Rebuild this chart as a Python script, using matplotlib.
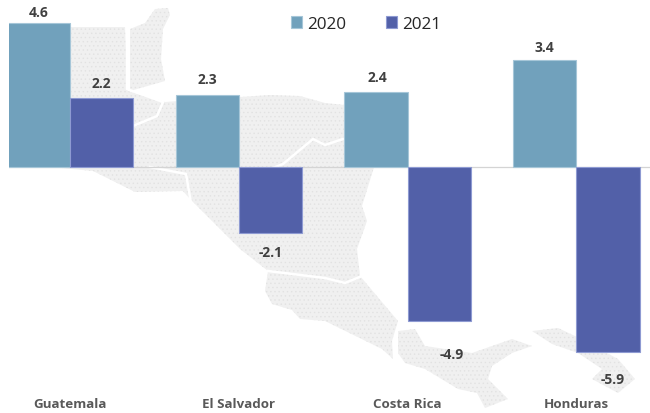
import matplotlib

matplotlib.use("Agg")

import matplotlib.pyplot as plt
import numpy as np
from matplotlib.patches import Polygon

plt.rcParams["font.family"] = ["Open Sans", "DejaVu Sans"]
plt.rcParams["hatch.linewidth"] = 0.5

countries = ["Guatemala", "El Salvador", "Costa Rica", "Honduras"]
values_2020 = [4.6, 2.3, 2.4, 3.4]
values_2021 = [2.2, -2.1, -4.9, -5.9]

COLOR_2020 = "#71a1bc"
COLOR_2021 = "#5260a8"
EDGE_2020 = "#a6c6d8"
EDGE_2021 = "#8e9ad2"
MAP_FILL = "#f0f0f0"
MAP_DOTS = "#e2e2e2"

# label nudges in pixels, the original spaces them unevenly
offsets_2020 = [(0, 11), (0, 16), (1, 15), (0, 13)]
offsets_2021 = [(0, 15), (0, -19), (12, -33), (5, -27)]

# background map outline, in image pixels (decoration only)
map_shapes = [
    # Guatemala, Honduras, Nicaragua, Costa Rica
    [(65, 28), (125, 28), (128, 92), (165, 103), (205, 100), (240, 98), (270, 96),
     (300, 97), (325, 104), (345, 106), (375, 165), (362, 207), (367, 222), (357, 250),
     (360, 277), (398, 322), (392, 342), (393, 360), (382, 350), (325, 322), (300, 320),
     (292, 311), (272, 305), (265, 292), (268, 272), (240, 250), (197, 207), (190, 200),
     (183, 192), (135, 193), (93, 172), (50, 168), (65, 100)],
    # Belize and Yucatan
    [(130, 30), (145, 24), (155, 10), (168, 9), (170, 16), (163, 30), (161, 60),
     (165, 82), (130, 92)],
    # Panama
    [(398, 332), (415, 330), (425, 347), (472, 354), (512, 340), (532, 347), (512, 354),
     (492, 367), (488, 380), (508, 400), (485, 409), (477, 394), (458, 390), (425, 370),
     (405, 364), (398, 354)],
    # Colombia corner
    [(532, 332), (558, 329), (575, 337), (618, 360), (635, 380), (618, 394), (592, 380),
     (602, 370), (578, 354), (552, 345)],
]
map_borders = [
    [(127, 28), (127, 90), (163, 103), (157, 117), (133, 127)],
    [(150, 168), (186, 175), (191, 204)],
    [(240, 182), (283, 165), (313, 140), (325, 146), (343, 140), (372, 130)],
    [(268, 272), (325, 279), (345, 284), (362, 277)],
]

fig = plt.figure(figsize=(6.5, 4.14), dpi=100)

map_ax = fig.add_axes([0, 0, 1, 1], zorder=0)
map_ax.set_xlim(0, 650)
map_ax.set_ylim(414, 0)
map_ax.axis("off")
for shape in map_shapes:
    map_ax.add_patch(Polygon(shape, closed=True, facecolor=MAP_FILL, edgecolor=MAP_DOTS,
                             hatch="....", linewidth=0))
for border in map_borders:
    xs, ys = zip(*border)
    map_ax.plot(xs, ys, color="white", linewidth=1.8)

# axes start at x=9 because the first bar is cut there in the original,
# and stop above the country names so they can be normal tick labels
ax = fig.add_axes([9 / 650, 22 / 414, 641 / 650, 392 / 414], zorder=1)
ax.patch.set_visible(False)

x = np.arange(len(countries))
bar_width = 0.375
bars_2020 = ax.bar(x - bar_width / 2, values_2020, bar_width, color=COLOR_2020,
                   edgecolor=EDGE_2020, linewidth=0.8, label="2020", zorder=3)
bars_2021 = ax.bar(x + bar_width / 2, values_2021, bar_width, color=COLOR_2021,
                   edgecolor=EDGE_2021, linewidth=0.8, label="2021", zorder=3)

ax.set_xlim(-61 / 168.8, 580 / 168.8)
ax.set_ylim(-224 / 31.4, 168 / 31.4)
ax.axhline(0, color="#d4d4d4", linewidth=0.9, zorder=2)

ax.set_xticks(x)
ax.set_xticklabels(countries, fontsize=9.6, fontweight="bold", color="#595959")
ax.tick_params(axis="x", length=0, pad=4)
ax.set_yticks([])
for spine in ax.spines.values():
    spine.set_visible(False)

for i, value in enumerate(values_2020):
    ax.annotate(f"{value}", (x[i] - bar_width / 2, value), xytext=offsets_2020[i],
                textcoords="offset pixels", ha="center", va="center",
                fontsize=10, fontweight="bold", color="#404040", zorder=4)
for i, value in enumerate(values_2021):
    ax.annotate(f"{value}", (x[i] + bar_width / 2, value), xytext=offsets_2021[i],
                textcoords="offset pixels", ha="center", va="center",
                fontsize=10, fontweight="bold", color="#404040", zorder=4)

ax.legend(handles=[bars_2020, bars_2021], ncol=2, frameon=False, fontsize=12.3,
          loc="center left", bbox_to_anchor=(291 / 650, 1 - 25 / 414),
          bbox_transform=fig.transFigure,
          handlelength=0.65, handleheight=0.65, handletextpad=0.3, columnspacing=2.35,
          borderpad=0, borderaxespad=0, labelcolor="#262626")

fig.savefig("out.png", dpi=100)
plt.close(fig)
